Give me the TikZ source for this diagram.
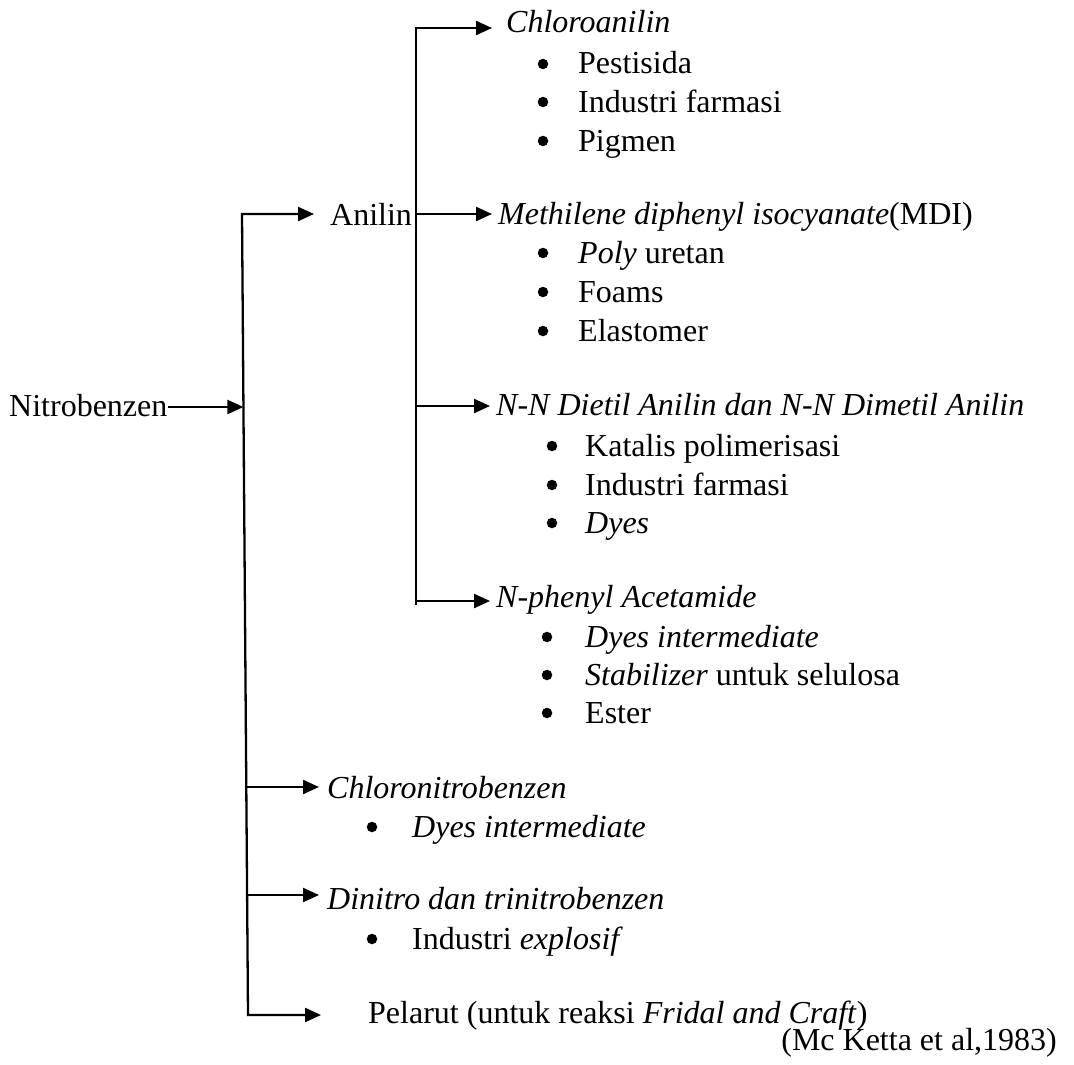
\documentclass[tikz,border=0pt]{standalone}
\usepackage{fontspec}
\setmainfont{Liberation Serif}
\usetikzlibrary{arrows.meta}
\newcommand{\fsz}{\fontsize{32}{38}\selectfont}
\begin{document}
\begin{tikzpicture}[x=1pt,y=-1pt,
  txt/.style={anchor=base west,inner sep=0pt,font=\fsz},
  bul/.style={circle,fill,inner sep=0pt,minimum size=10.5pt},
  ln/.style={line width=2.3pt},
  tipa/.style={ln,-{Triangle[length=16pt,width=14pt]}},
  tipb/.style={ln,{Triangle[length=16pt,width=14pt]}-{Triangle[length=16pt,width=14pt]}}]
\useasboundingbox (0,0) rectangle (1074,1065);

% ---------- texts ----------
\node[txt] (nitro) at (9,416) {Nitrobenzen};
\node[txt] (anilin) at (330,225) {Anilin};

\node[txt] (cla) at (506,33) {\textit{Chloroanilin}};
\node[bul] (b11) at (543,64) {};  \node[txt] (i11) at (578,74) {Pestisida};
\node[bul] (b12) at (543,102) {}; \node[txt] (i12) at (578,112) {Industri farmasi};
\node[bul] (b13) at (543,141) {}; \node[txt] (i13) at (578,151) {Pigmen};

\node[txt] (mdi) at (498,224) {\textit{Methilene diphenyl isocyanate}(MDI)};
\node[bul] (b21) at (543,253) {}; \node[txt] (i21) at (578,263) {\textit{Poly} uretan};
\node[bul] (b22) at (543,292) {}; \node[txt] (i22) at (578,302) {Foams};
\node[bul] (b23) at (543,331) {}; \node[txt] (i23) at (578,341) {Elastomer};

\node[txt] (nn) at (496,415) {\textit{N-N Dietil Anilin dan N-N Dimetil Anilin}};
\node[bul] (b31) at (552,446) {}; \node[txt] (i31) at (585,456) {Katalis polimerisasi};
\node[bul] (b32) at (552,485) {}; \node[txt] (i32) at (585,495) {Industri farmasi};
\node[bul] (b33) at (552,523) {}; \node[txt] (i33) at (585,533) {\textit{Dyes}};

\node[txt] (np) at (496,607) {\textit{N-phenyl Acetamide}};
\node[bul] (b41) at (547,637) {}; \node[txt] (i41) at (585,647) {\textit{Dyes intermediate}};
\node[bul] (b42) at (547,675) {}; \node[txt] (i42) at (585,685) {\textit{Stabilizer} untuk selulosa};
\node[bul] (b43) at (547,713) {}; \node[txt] (i43) at (585,723) {Ester};

\node[txt] (cnb) at (327,798) {\textit{Chloronitrobenzen}};
\node[bul] (b51) at (372,827) {}; \node[txt] (i51) at (412,837) {\textit{Dyes intermediate}};

\node[txt] (dnt) at (327,909) {\textit{Dinitro dan trinitrobenzen}};
\node[bul] (b61) at (372,939) {}; \node[txt] (i61) at (412,949) {Industri \textit{explosif}};

\node[txt] (pel) at (368,1023) {Pelarut (untuk reaksi \textit{Fridal and Craft})};
\node[anchor=base east,inner sep=0pt,font=\fsz] (ref) at (1057,1050) {(Mc Ketta et al,1983)};

% ---------- junctions ----------
\coordinate (mTop) at (242,214);
\coordinate (mN) at (243.4,407);
\coordinate (mC) at (246.3,787);
\coordinate (mD) at (247.1,895);
\coordinate (mP) at (248,1015);
\coordinate (tAn) at (314,214);
\coordinate (tC) at (319,787);
\coordinate (tD) at (319,895);
\coordinate (tP) at (321,1015);

\coordinate (aT) at (416,28);
\coordinate (aM) at (416,214);
\coordinate (aN) at (416,406);
\coordinate (aP) at (416,601);
\coordinate (aB) at (416,605);
\coordinate (tCA) at (492,28);
\coordinate (tM) at (492,214);
\coordinate (tN) at (490,406);
\coordinate (tNP) at (490,601);

% ---------- connectors ----------
\draw[tipb] (tAn) -- (mTop) -- (mP) -- (tP);
\draw[tipa] (nitro.east |- mN) -- (mN);
\draw[tipa] (mC) -- (tC);
\draw[tipa] (mD) -- (tD);

\draw[tipa] (aB) -- (aT) -- (tCA);
\draw[tipa] (aM) -- (tM);
\draw[tipa] (aN) -- (tN);
\draw[tipa] (aP) -- (tNP);
\end{tikzpicture}
\end{document}
